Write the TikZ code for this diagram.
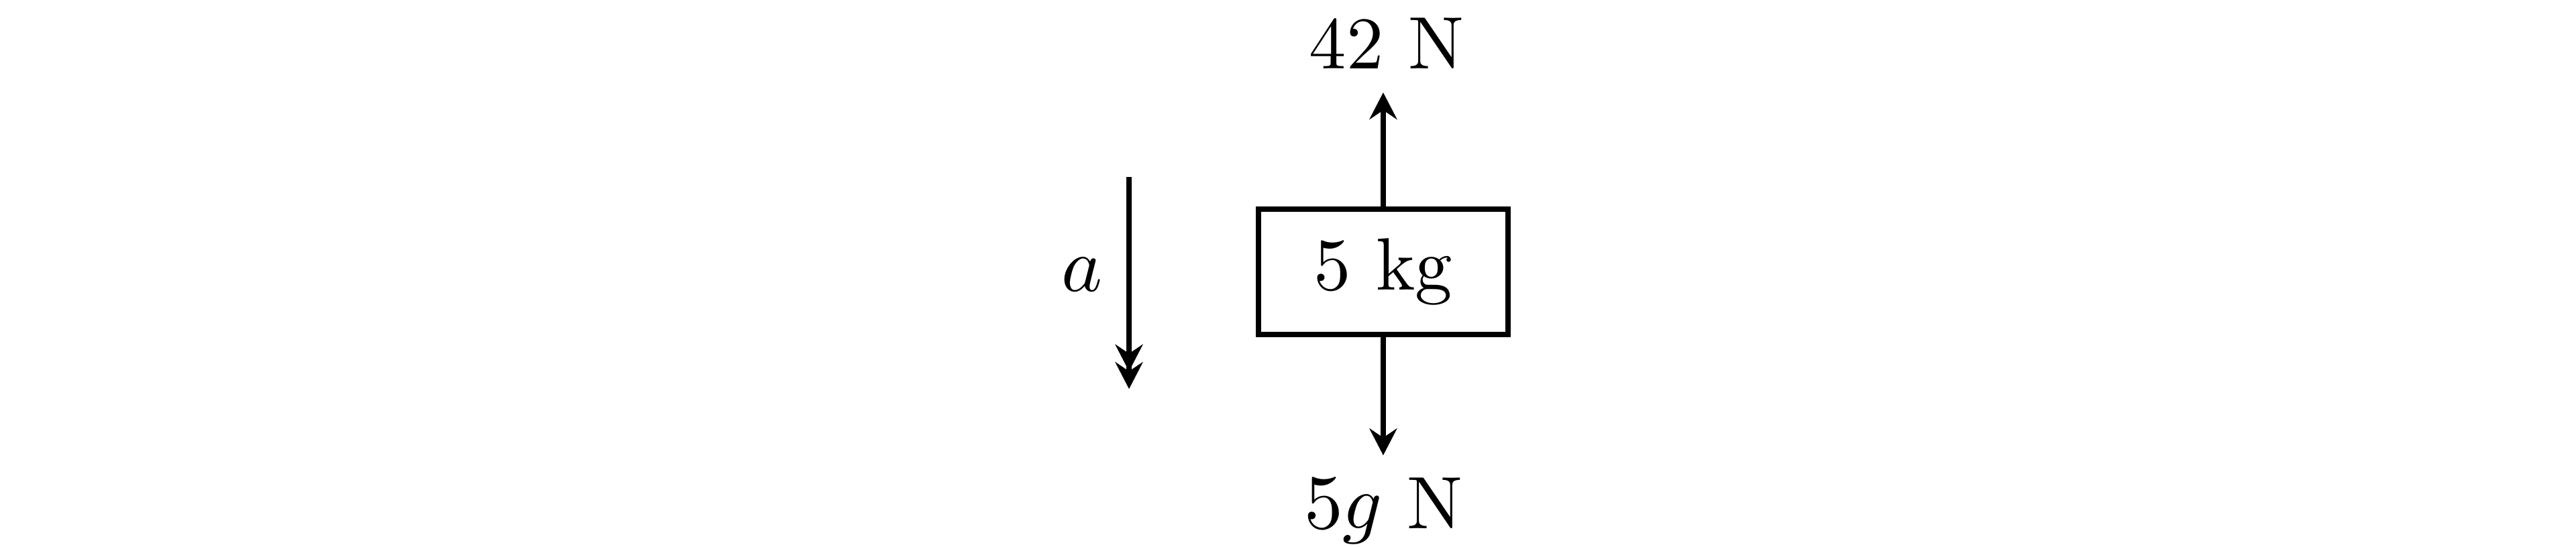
\documentclass[tikz,border=0pt]{standalone}
\usetikzlibrary{positioning, arrows.meta}

\begin{document}
\begin{tikzpicture}[
  font=\fontsize{10.5pt}{12pt}\selectfont,
  force/.style={line width=0.75pt, -{Stealth[length=3.8pt,width=3.9pt,inset=1.3pt]}},
  accel/.style={line width=0.75pt,
    -{Stealth[length=3.8pt,width=3.9pt,inset=1.3pt,sep=-1.3pt] Stealth[length=3.8pt,width=3.9pt,inset=1.3pt]}}
]
  \useasboundingbox (0,0) rectangle (12.8,2.717);
  % Block
  \node[draw, line width=0.75pt, minimum width=1.24cm, minimum height=0.623cm, inner sep=0pt] (mass) at (6.873,1.365) {5 kg};
  % Force labels
  \coordinate (upTip) at (6.873,2.257);
  \coordinate (downTip) at (6.873,0.453);
  \node[anchor=base] (tension) at (6.89,2.377) {42 N};
  \node[anchor=base] (weight) at (6.875,0.09) {$5g$ N};
  % Forces on the block
  \draw[force] (mass.north) -- (upTip);
  \draw[force] (mass.south) -- (downTip);
  % Acceleration
  \coordinate (accTop) at (5.61,1.837);
  \coordinate (accTip) at (5.61,0.783);
  \draw[accel] (accTop) -- (accTip);
  \node (accLabel) at (5.377,1.35) {$a$};
\end{tikzpicture}
\end{document}
